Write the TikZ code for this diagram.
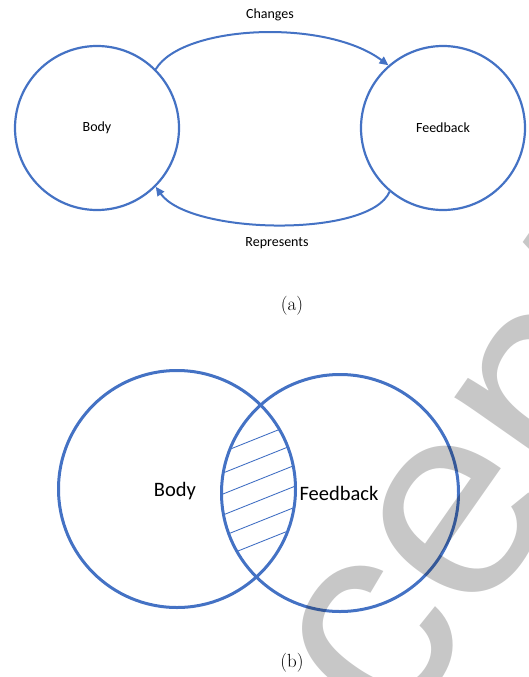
\documentclass[tikz,border=0pt]{standalone}
\usepackage{fontspec}
\newfontfamily\calib{Carlito}
\newfontfamily\wmfont{Liberation Sans}
\usetikzlibrary{arrows.meta}
\definecolor{vblue}{HTML}{4472C4}
\begin{document}
\begin{tikzpicture}[x=1pt,y=-1pt,
  ringA/.style={circle, draw=vblue, line width=2.2pt, inner sep=0pt, minimum size=164pt,
                font=\calib\fontsize{14}{16}\selectfont},
  ringB/.style={circle, draw=vblue, line width=3pt, inner sep=0pt, minimum size=237pt},
  bigtxt/.style={font=\calib\fontsize{20.5}{24}\selectfont, inner sep=0pt},
  flow/.style={draw=vblue, line width=2pt, -{Triangle[length=9pt,width=8pt]}},
  lbl/.style={font=\calib\fontsize{14}{16}\selectfont, inner sep=0pt},
  capt/.style={font=\fontsize{19}{21}\selectfont, inner sep=0pt},
  hatch/.style={draw=vblue, line width=0.9pt}]
\useasboundingbox (0,0) rectangle (528,677);

% ---------- (a) ----------
\node[ringA] (bA) at (97,128) {Body};
\node[ringA] (fA) at (443,128) {Feedback};
\draw[flow] (bA.45) .. controls (182,25) and (325,18) .. (fA.131);
\draw[flow] (fA.230) .. controls (370,238) and (190,235) .. (bA.315);
\node[lbl] (chg) at (270,15) {Changes};
\node[lbl] (rep) at (277,243) {Represents};
\node[capt] (capA) at (292,306) {(a)};

% ---------- (b) ----------
\begin{scope}
  \clip (177,489) circle (119pt);
  \clip (340,493) circle (118pt);
  \foreach \yy in {438,459,480,501,522,543} {
    \draw[hatch] (205,\yy+21.2) -- (310,\yy-20.8);
  }
\end{scope}
\node[ringB] (bB) at (177,489) {};
\node[ringB] (fB) at (340,493) {};
\node[bigtxt] (bodyB) at (175,491) {Body};
\node[bigtxt] (fbB) at (339,493) {Feedback};
\node[capt] (capB) at (292,663) {(b)};

% ---------- watermark ----------
\begin{scope}
  \clip (0,0) rectangle (528,677);
  \node[anchor=base west, rotate=55, inner sep=0pt, text=black, text opacity=0.22,
        font=\wmfont\fontsize{280}{310}\selectfont] (wm) at (208,1008) {Accepted};
\end{scope}
\end{tikzpicture}
\end{document}
